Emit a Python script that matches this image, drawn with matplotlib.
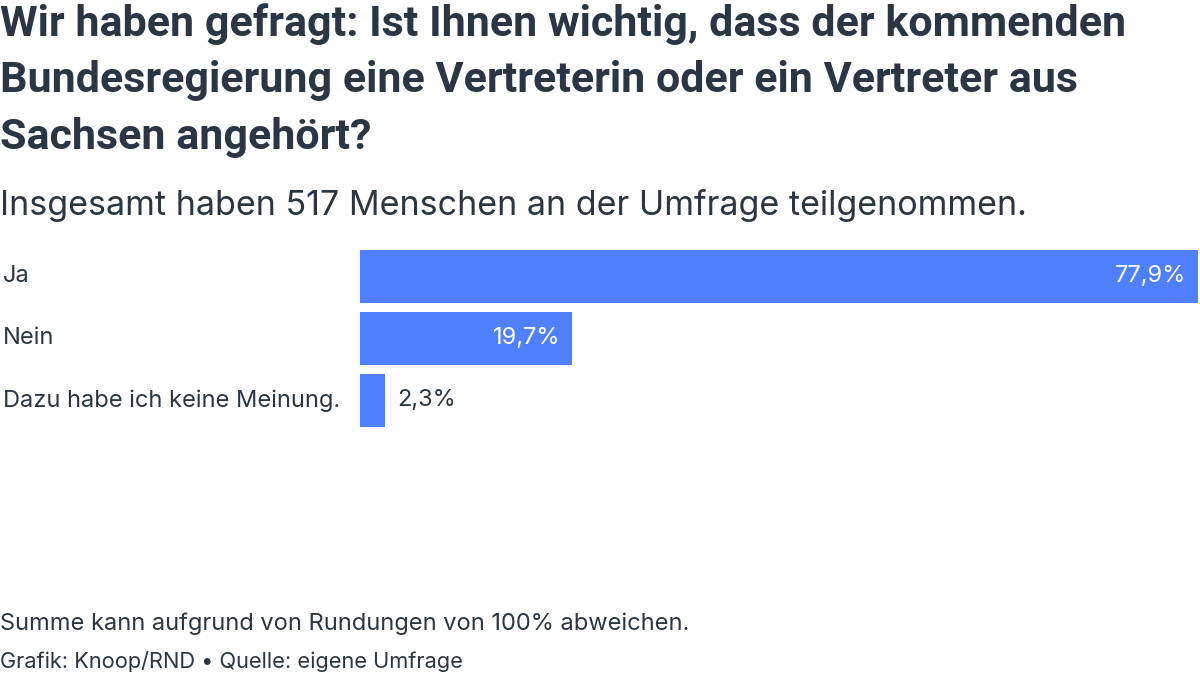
import matplotlib.pyplot as plt

# Daten der Umfrage
categories = ["Ja", "Nein", "Dazu habe ich keine Meinung."]
values = [77.9, 19.7, 2.3]
value_labels = ["77,9%", "19,7%", "2,3%"]

TITLE = ("Wir haben gefragt: Ist Ihnen wichtig, dass der kommenden\n"
         "Bundesregierung eine Vertreterin oder ein Vertreter aus\n"
         "Sachsen angehört?")
SUBTITLE = "Insgesamt haben 517 Menschen an der Umfrage teilgenommen."
NOTE = "Summe kann aufgrund von Rundungen von 100% abweichen."
SOURCE = "Grafik: Knoop/RND • Quelle: eigene Umfrage"

BAR_COLOR = "#4f80ff"
TEXT_COLOR = "#2a3644"

W, H = 1200, 676
fig = plt.figure(figsize=(W / 100, H / 100), dpi=100)
fig.patch.set_facecolor("white")

# Achse genau dort, wo die Balken liegen (Pixel -> Figurenanteil)
ax = fig.add_axes([360 / W, 1 - 427 / H, 838 / W, 177 / H])
bar_h = 53 / 62
ax.barh(range(len(values)), values, height=bar_h, color=BAR_COLOR)
ax.set_xlim(0, max(values))
ax.set_ylim(len(values) - 1 + bar_h / 2, -bar_h / 2)
ax.axis("off")

for i, (v, lab) in enumerate(zip(values, value_labels)):
    if v > 10:
        ax.annotate(lab, (v, i), xytext=(-8.5, 0), textcoords="offset points",
                    ha="right", va="center", color="white",
                    fontsize=17, family="Inter")
    else:
        ax.annotate(lab, (v, i), xytext=(9, 0), textcoords="offset points",
                    ha="left", va="center", color=TEXT_COLOR,
                    fontsize=17, family="Inter")

# Kategorien links
for i, cat in enumerate(categories):
    y = ax.transData.transform((0, i))[1] / H
    fig.text(3 / W, y, cat, ha="left", va="center", fontsize=17,
             family="Inter", color=TEXT_COLOR)

fig.text(0, 1 - 3 / H, TITLE, ha="left", va="top", fontsize=31,
         fontweight="bold", family="Roboto", color=TEXT_COLOR,
         linespacing=1.48)
fig.text(0, 1 - 205 / H, SUBTITLE, ha="left", va="center", fontsize=24.5,
         family="Inter", color=TEXT_COLOR)
fig.text(0, 1 - 624 / H, NOTE, ha="left", va="center", fontsize=17,
         family="Inter", color=TEXT_COLOR)
fig.text(0, 1 - 662 / H, SOURCE, ha="left", va="center", fontsize=15.7,
         family="Inter", color=TEXT_COLOR)

fig.savefig("out.png", dpi=100, facecolor="white")
